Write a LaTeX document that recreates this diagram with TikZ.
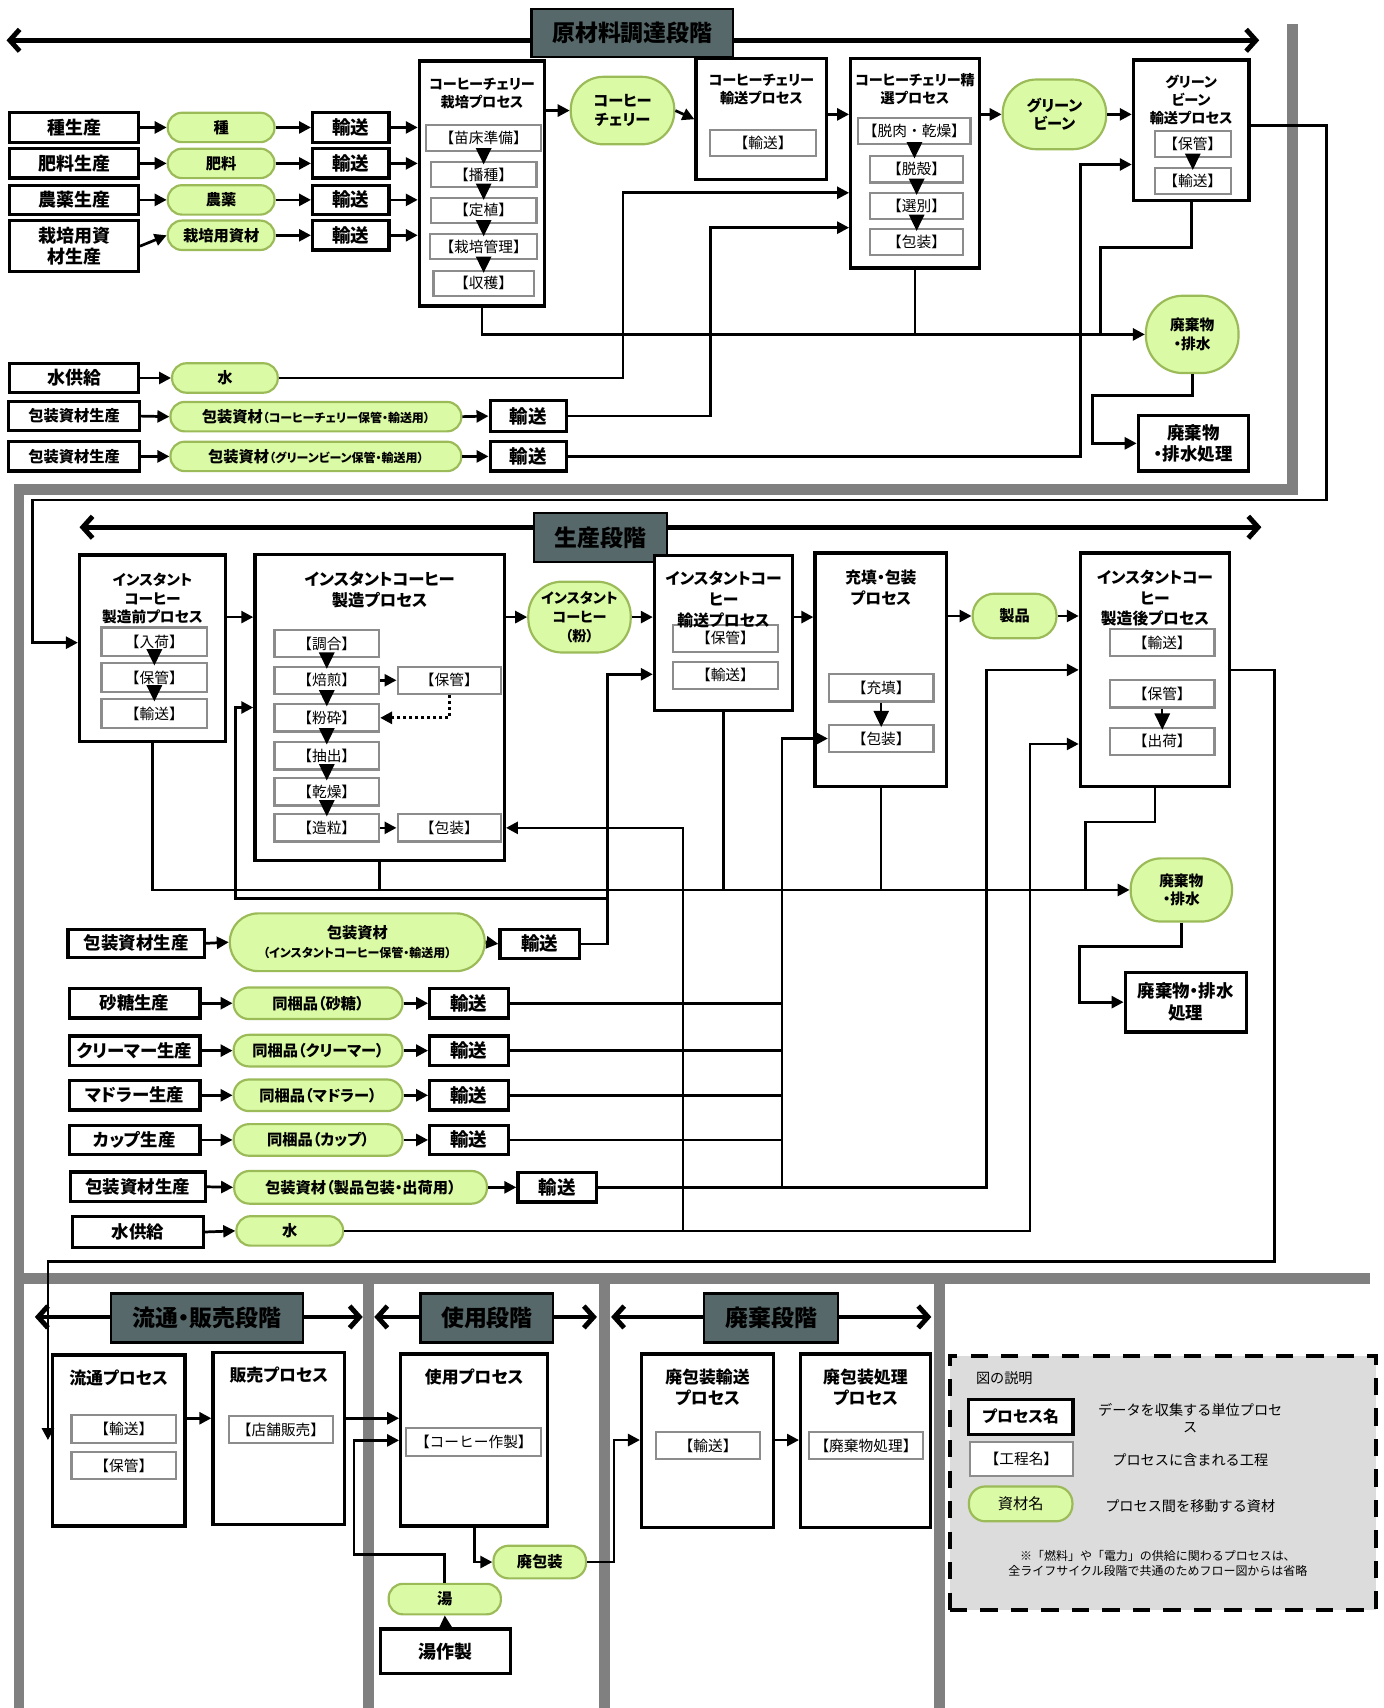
\documentclass[tikz,border=0pt]{standalone}
\usepackage{fontspec}
\setmainfont{Noto Sans CJK JP}[BoldFeatures={RawFeature=+palt}]
\usetikzlibrary{positioning,arrows.meta}
\definecolor{framegray}{RGB}{128,128,128}
\definecolor{stagegray}{RGB}{86,104,106}
\definecolor{stepgray}{RGB}{140,140,140}
\definecolor{matfill}{RGB}{219,250,165}
\definecolor{matline}{RGB}{155,187,89}
\definecolor{legendgray}{RGB}{220,220,220}
\newcommand{\fsz}[2]{\fontsize{#1}{#2}\selectfont}

\begin{document}
\begin{tikzpicture}[x=1pt,y=-1pt,
  wh/.style 2 args={minimum width=#1,minimum height=#2},
  frame/.style={draw=framegray,line width=10pt},
  phase/.style={{Straight Barb[length=9pt,width=20pt]}-{Straight Barb[length=9pt,width=20pt]},line width=4.5pt},
  stage/.style={draw,line width=2pt,fill=stagegray,inner sep=0pt,font=\bfseries\fsz{21}{24}},
  src/.style={draw,line width=3pt,fill=white,inner sep=0pt,align=center,font=\bfseries\fsz{16.5}{20}},
  msrc/.style={src,font=\bfseries\fsz{16}{19}},
  trn/.style={src,font=\bfseries\fsz{17}{19}},
  proc/.style={draw,line width=3pt,fill=white,inner sep=0pt},
  ptitle/.style={inner sep=0pt,align=center,font=\bfseries\fsz{13}{16.5}},
  stp/.style={draw=stepgray,line width=2pt,fill=white,inner sep=0pt,font=\fsz{13.5}{15}},
  mat/.style={draw=matline,line width=2pt,fill=matfill,rounded corners=13pt,inner sep=0pt,align=center,font=\bfseries\fsz{14}{17}},
  flow/.style={-{Triangle[length=11pt,width=11pt]},line width=2.5pt},
  wire/.style={line width=2.5pt},
  stepflow/.style={-{Triangle[length=15pt,width=14pt]},line width=2pt,shorten >=-3pt},
  dots/.style={flow,line width=3pt,dash pattern=on 3pt off 2.5pt}]
  \useasboundingbox (0,0) rectangle (1270,1568);

  % stage frames
  \draw[frame] (1186.5,22) |- (17.4,449) -- (17.4,1568);
  \draw[frame] (17.4,1174) -- (1258,1174);
  \foreach \x in {338,555,862.6}
    \draw[frame] (\x,1174) -- (\x,1568);

  %% raw material stage
  \draw[phase] (6,37) -- (1156,37);
  \node[stage,wh={185}{44}] (st1) at (580.5,30) {原材料調達段階};

  % cultivation
  \node[proc,wh={115}{225}] (p1) at (442.5,168.5) {};
  \node[ptitle,below=17pt of p1.north] (p1t) {コーヒーチェリー\\栽培プロセス};
  \node[stp,wh={106}{24}] (a1) at (444,127) {【苗床準備】};
  \node[stp,wh={97}{23}] (a2) at (444,160.5) {【播種】};
  \node[stp,wh={97}{23}] (a3) at (444,193) {【定植】};
  \node[stp,wh={98}{23}] (a4) at (444,226.5) {【栽培管理】};
  \node[stp,wh={92}{23}] (a5) at (444,260) {【収穫】};
  \node[mat,wh={95}{62},rounded corners=30pt] (m8) at (571.5,101.5) {コーヒー\\チェリー};

  % cherry transport
  \node[proc,wh={120}{111}] (p2) at (699,109.5) {};
  \node[ptitle,below=15pt of p2.north] (p2t) {コーヒーチェリー\\輸送プロセス};
  \node[stp,wh={97}{24}] (b1) at (700.5,131) {【輸送】};

  % sorting
  \node[proc,wh={118}{192}] (p3) at (840,150) {};
  \node[ptitle,below=15pt of p3.north] (p3t) {コーヒーチェリー精\\選プロセス};
  \node[stp,wh={103}{24}] (c1) at (839.5,120) {【脱肉・乾燥】};
  \node[stp,wh={85}{24}] (c2) at (841.5,155.5) {【脱殻】};
  \node[stp,wh={85}{24}] (c3) at (841.5,189) {【選別】};
  \node[stp,wh={85}{24}] (c4) at (841.5,222) {【包装】};
  \node[mat,wh={95}{64},rounded corners=31pt] (m9) at (968,105) {グリーン\\ビーン};

  % green bean transport
  \node[proc,wh={106}{129}] (p4) at (1093.5,119.5) {};
  \node[ptitle,below=15pt of p4.north] (p4t) {グリーン\\ビーン\\輸送プロセス};
  \node[stp,wh={70}{24}] (d1) at (1095,132) {【保管】};
  \node[stp,wh={70}{24}] (d2) at (1095,166) {【輸送】};
  \node[mat,wh={85}{71},rounded corners=34pt,font=\bfseries\fsz{13.5}{17}] (m10) at (1094.5,307) {廃棄物\\・排水};
  \node[src,wh={101}{51},font=\bfseries\fsz{16}{20}] (w1) at (1095.5,407) {廃棄物\\・排水処理};

  % inputs
  \foreach \i/\y/\s/\m in {1/117/種生産/種,2/150/肥料生産/肥料,3/183.5/農薬生産/農薬}{
    \node[src,wh={118}{27}] (s\i) at (68,\y) {\s};
    \node[mat,wh={98}{27}] (m\i) at (203,\y) {\m};
    \node[trn,wh={70}{27}] (r\i) at (322,\y) {輸送};
  }
  \node[src,wh={118}{47}] (s4) at (68,226) {栽培用資\\材生産};
  \node[mat,wh={98}{27}] (m4) at (203,216) {栽培用資材};
  \node[trn,wh={70}{27}] (r4) at (322,216) {輸送};
  \node[src,wh={118}{27}] (s5) at (68,347) {水供給};
  \node[mat,wh={97}{27}] (m5) at (206.5,347) {水};
  \node[src,wh={120}{27},font=\bfseries\fsz{14}{17}] (s6) at (68,382) {包装資材生産};
  \node[mat,wh={267}{27},font=\bfseries\fsz{14}{17}] (m6) at (290,382.5) {包装資材\fsz{11}{13}（コーヒーチェリー保管・輸送用）};
  \node[trn,wh={70}{28}] (r5) at (485,382) {輸送};
  \node[src,wh={120}{27},font=\bfseries\fsz{14}{17}] (s7) at (68,419) {包装資材生産};
  \node[mat,wh={267}{27},font=\bfseries\fsz{14}{17}] (m7) at (290,419) {包装資材\fsz{11}{13}（グリーンビーン保管・輸送用）};
  \node[trn,wh={70}{27}] (r6) at (485,419) {輸送};

  %% production stage
  \draw[phase] (73,484) -- (1158,484);
  \node[stage,wh={122}{45}] (st2) at (551.5,493.5) {生産段階};

  % before manufacture
  \node[proc,wh={134}{171}] (q1) at (140,595) {};
  \node[ptitle,below=18pt of q1.north,font=\bfseries\fsz{13.5}{17}] (q1t) {インスタント\\コーヒー\\製造前プロセス};
  \node[stp,wh={97}{26}] (e1) at (141.7,589) {【入荷】};
  \node[stp,wh={97}{26}] (e2) at (141.7,622) {【保管】};
  \node[stp,wh={97}{26}] (e3) at (141.7,655) {【輸送】};

  % manufacture
  \node[proc,wh={229}{281}] (q2) at (348.5,649.5) {};
  \node[ptitle,below=17pt of q2.north,font=\bfseries\fsz{15}{19.5}] (q2t) {インスタントコーヒー\\製造プロセス};
  \node[stp,wh={96}{25}] (f1) at (300,591) {【調合】};
  \node[stp,wh={96}{25}] (f2) at (300,624.5) {【焙煎】};
  \node[stp,wh={96}{25}] (f3) at (300,659) {【粉砕】};
  \node[stp,wh={96}{25}] (f4) at (300,694) {【抽出】};
  \node[stp,wh={96}{25}] (f5) at (300,727) {【乾燥】};
  \node[stp,wh={96}{25}] (f6) at (300,760) {【造粒】};
  \node[stp,wh={95}{25}] (g1) at (412.5,624.5) {【保管】};
  \node[stp,wh={95}{25}] (g2) at (412.5,760) {【包装】};
  \node[mat,wh={94}{65},rounded corners=31pt,font=\bfseries\fsz{13}{17.5}] (m11) at (532,566.5) {インスタント\\コーヒー\\（粉）};

  % transport (title sits over the first step)
  \node[proc,wh={127}{142}] (q3) at (664.3,581) {};
  \node[stp,wh={96}{25}] (h1) at (666,586) {【保管】};
  \node[stp,wh={96}{25}] (h2) at (666,620) {【輸送】};
  \node[ptitle,below=16pt of q3.north,font=\bfseries\fsz{14.5}{19}] (q3t) {インスタントコー\\ヒー\\輸送プロセス};

  % filling and packing
  \node[proc,wh={121}{214}] (q4) at (808.7,614.7) {};
  \node[ptitle,below=17pt of q4.north,font=\bfseries\fsz{14.5}{19}] (q4t) {充填・包装\\プロセス};
  \node[stp,wh={96}{25}] (i1) at (809,631.5) {【充填】};
  \node[stp,wh={96}{25}] (i2) at (809,678) {【包装】};
  \node[mat,wh={77}{41},rounded corners=20pt] (m12) at (931.4,565.5) {製品};

  % after manufacture
  \node[proc,wh={137}{214}] (q5) at (1060.3,614.7) {};
  \node[stp,wh={96}{25}] (j1) at (1067,590) {【輸送】};
  \node[stp,wh={96}{25}] (j2) at (1067,637) {【保管】};
  \node[stp,wh={96}{25}] (j3) at (1067,680.5) {【出荷】};
  \node[ptitle,below=17pt of q5.north,font=\bfseries\fsz{14.5}{19}] (q5t) {インスタントコー\\ヒー\\製造後プロセス};
  \node[mat,wh={93}{58},rounded corners=28pt,font=\bfseries\fsz{13.5}{17}] (m13) at (1084.5,817) {廃棄物\\・排水};
  \node[src,wh={111}{55},font=\bfseries\fsz{16}{20}] (w2) at (1088.5,920) {廃棄物・排水\\処理};

  % inputs
  \node[msrc,wh={125}{26}] (s8) at (125,866) {包装資材生産};
  \node[mat,wh={234}{53},rounded corners=26pt,font=\bfseries\fsz{14}{17}] (m14) at (328,865) {包装資材\\\fsz{11}{13}（インスタントコーヒー保管・輸送用）};
  \node[trn,wh={73}{27}] (r7) at (495.5,866.5) {輸送};
  \foreach \i/\y/\s/\m in {1/921/砂糖生産/砂糖,2/964.5/クリーマー生産/クリーマー,3/1005.5/マドラー生産/マドラー,4/1046.5/カップ生産/カップ}{
    \node[msrc,wh={120}{27}] (cs\i) at (123.5,\y) {\s};
    \node[mat,wh={155}{29},rounded corners=14pt] (cm\i) at (292,\y) {同梱品（\m）};
    \node[trn,wh={72}{27}] (cr\i) at (430.5,\y) {輸送};
  }
  \node[msrc,wh={124}{27}] (s9) at (126.5,1089.5) {包装資材生産};
  \node[mat,wh={232}{30},rounded corners=14pt] (m15) at (331,1090) {包装資材（製品包装・出荷用）};
  \node[trn,wh={72}{27}] (r8) at (511.5,1090) {輸送};
  \node[msrc,wh={120}{28}] (s10) at (126.5,1131) {水供給};
  \node[mat,wh={98}{27}] (m16) at (266,1130) {水};

  %% distribution, use and disposal stages
  \draw[phase] (32,1209) -- (333,1209);
  \node[stage,wh={176}{45}] (st3) at (190,1210) {流通・販売段階};
  \draw[phase] (343.6,1209) -- (548,1209);
  \node[stage,wh={122}{45}] (st4) at (447,1210) {使用段階};
  \draw[phase] (561,1209) -- (855,1209);
  \node[stage,wh={123}{45}] (st5) at (708,1210) {廃棄段階};

  \node[proc,wh={122}{157}] (u1) at (108.9,1322.5) {};
  \node[ptitle,below=15pt of u1.north,font=\bfseries\fsz{15.5}{19}] (u1t) {流通プロセス};
  \node[stp,wh={96}{26}] (v1) at (113.7,1312) {【輸送】};
  \node[stp,wh={96}{25}] (v2) at (113.7,1345.5) {【保管】};
  \node[proc,wh={121}{158}] (u2) at (256,1320.5) {};
  \node[ptitle,below=15pt of u2.north,font=\bfseries\fsz{15.5}{19}] (u2t) {販売プロセス};
  \node[stp,wh={96}{25}] (v3) at (258,1312.5) {【店舗販売】};
  \node[proc,wh={135}{158}] (u3) at (435.4,1322) {};
  \node[ptitle,below=15pt of u3.north,font=\bfseries\fsz{15.5}{19}] (u3t) {使用プロセス};
  \node[stp,wh={124}{26}] (v4) at (435,1324) {【コーヒー作製】};
  \node[mat,wh={85}{30},rounded corners=14pt] (m21) at (495.5,1434) {廃包装};
  \node[mat,wh={103}{28},rounded corners=13pt] (m22) at (408.3,1468) {湯};
  \node[src,wh={119}{41}] (x1) at (409,1516) {湯作製};
  \node[proc,wh={121}{159}] (u4) at (649.5,1322.5) {};
  \node[ptitle,below=15pt of u4.north,font=\bfseries\fsz{15.5}{19}] (u4t) {廃包装輸送\\プロセス};
  \node[stp,wh={96}{25}] (v5) at (650,1327) {【輸送】};
  \node[proc,wh={119}{159}] (u5) at (794.5,1322.5) {};
  \node[ptitle,below=15pt of u5.north,font=\bfseries\fsz{15.5}{19}] (u5t) {廃包装処理\\プロセス};
  \node[stp,wh={105}{25}] (v6) at (795,1327) {【廃棄物処理】};

  % legend
  \node[draw,line width=4pt,dash pattern=on 16pt off 12pt,fill=legendgray,wh={391}{233}] (lg) at (1067.5,1361.5) {};
  \node[font=\fsz{13}{16}] (l0) at (922,1265.6) {図の説明};
  \node[proc,wh={96}{32},font=\bfseries\fsz{14.5}{16}] (l1) at (937,1300.6) {プロセス名};
  \node[stp,wh={94}{31}] (l2) at (937.7,1339.6) {【工程名】};
  \node[mat,wh={95}{32},rounded corners=15pt,font=\fsz{14}{16}] (l3) at (937,1380.6) {資材名};
  \node[align=center,font=\fsz{13}{16}] (l4) at (1092.7,1302) {データを収集する単位プロセ\\ス};
  \node[font=\fsz{13}{16}] (l5) at (1092.7,1340.6) {プロセスに含まれる工程};
  \node[font=\fsz{13}{16}] (l6) at (1092.7,1382.6) {プロセス間を移動する資材};
  \node[align=center,font=\fsz{11}{14}] (l7) at (1063,1435) {※「燃料」や「電力」の供給に関わるプロセスは、\\全ライフサイクル段階で共通のためフロー図からは省略};

  %% connectors: raw material stage
  \foreach \a/\b in {a1/a2,a2/a3,a3/a4,a4/a5,c1/c2,c2/c3,c3/c4,d1/d2,e1/e2,e2/e3,f1/f2,f2/f3,f3/f4,f4/f5,f5/f6,i1/i2,j2/j3}
    \draw[stepflow] (\a.south) -- (\a.south |- \b.north);
  \foreach \i in {1,2,3,4}{
    \draw[flow] (s\i.east) -- (m\i.west);
    \draw[flow] (m\i.east) -- (r\i.west);
    \draw[flow] (r\i.east) -- (r\i.east -| p1.west);
  }
  \draw[flow] (p1.east |- m8) -- (m8.west);
  \draw[flow] (m8.east) -- (p2.west);
  \draw[flow] (p2.east |- m9) -- (p3.west |- m9);
  \draw[flow] (p3.east |- m9) -- (m9.west);
  \draw[flow] (m9.east) -- (p4.west |- m9);
  \draw[flow] (s5.east) -- (m5.west);
  \coordinate (k1) at (572,177);
  \draw[flow] (m5.east) -| (k1) -- (k1 -| p3.west);
  \draw[flow] (s6.east) -- (m6.west);
  \draw[flow] (m6.east) -- (r5.west);
  \coordinate (k2) at (652,209);
  \draw[flow] (r5.east) -| (k2) -- (k2 -| p3.west);
  \draw[flow] (s7.east) -- (m7.west);
  \draw[flow] (m7.east) -- (r6.west);
  \coordinate (k3) at (992,151);
  \draw[flow] (r6.east) -| (k3) -- (k3 -| p4.west);
  % waste
  \draw[flow] (p1.south) |- (m10.west);
  \draw[wire] (p3.south) -- (p3.south |- m10.west);
  \coordinate (k4) at (1010,227);
  \draw[wire] (p4.south) |- (k4) -- (k4 |- m10.west);
  \coordinate (k5) at (1003,363);
  \draw[flow] (m10.south) |- (k5) |- (w1.west);
  % green beans to production
  \coordinate (k6) at (1218,115);
  \coordinate (k7) at (1218,459);
  \coordinate (k8) at (30,590);
  \draw[flow] (k6 -| p4.east) -- (k6) -- (k7) -| (k8) -- (k8 -| q1.west);

  %% connectors: production stage
  \draw[flow] (f2.east) -- (g1.west);
  \draw[flow] (f6.east) -- (g2.west);
  \draw[dots] (g1.south) |- (f3.east);
  \draw[flow] (q1.east |- m11) -- (q2.west |- m11);
  \draw[flow] (q2.east |- m11) -- (m11.west);
  \draw[flow] (m11.east) -- (q3.west |- m11);
  \draw[flow] (q3.east |- m11) -- (q4.west |- m11);
  \draw[flow] (q4.east |- m12) -- (m12.west);
  \draw[flow] (m12.east) -- (q5.west |- m12);
  % waste
  \draw[flow] (q1.south) |- (m13.west);
  \foreach \p in {q2,q3,q4}
    \draw[wire] (\p.south) -- (\p.south |- m13.west);
  \coordinate (k9) at (996.5,754.5);
  \draw[wire] (q5.south) |- (k9) -- (k9 |- m13.west);
  \coordinate (k10) at (991,869);
  \draw[flow] (m13.south) |- (k10) |- (w2.west);
  % product to distribution
  \coordinate (k11) at (1170,615);
  \coordinate (k12) at (44,1158);
  \coordinate (k13) at (44,1322);
  \draw[flow] (k11 -| q5.east) -- (k11) |- (k12) -- (k13);
  % packaging material
  \draw[flow] (s8.east) -- (m14.west);
  \draw[flow] (m14.east) -- (r7.west);
  \coordinate (k14) at (557.6,619);
  \coordinate (k15) at (216.5,824.7);
  \coordinate (k16) at (216.5,649.5);
  \draw[flow] (r7.east) -| (k14) -- (k14 -| q3.west);
  \draw[flow] (k14 |- k15) -- (k15) -- (k16) -- (k16 -| q2.west);
  % bundled items
  \coordinate (k17) at (718,677);
  \foreach \i in {1,2,3,4}{
    \draw[flow] (cs\i.east) -- (cm\i.west);
    \draw[flow] (cm\i.east) -- (cr\i.west);
    \draw[wire] (cr\i.east) -- (cr\i.east -| k17);
  }
  \draw[flow] (s9.east) -- (m15.west);
  \draw[flow] (m15.east) -- (r8.west);
  \coordinate (k18) at (905.6,615);
  \draw[flow] (r8.east) -| (k18) -- (k18 -| q5.west);
  \draw[flow] (r8.east -| k17) |- (i2.west);
  % water
  \draw[flow] (s10.east) -- (m16.west);
  \coordinate (k19) at (945.6,683);
  \coordinate (k20) at (627,760);
  \draw[flow] (m16.east) -| (k19) -- (k19 -| q5.west);
  \draw[flow] (m16.east -| k20) -- (k20) -- (k20 -| q2.east);

  %% connectors: distribution, use and disposal
  \coordinate (k21) at (0,1302);
  \draw[flow] (u1.east |- k21) -- (u2.west |- k21);
  \draw[flow] (u2.east |- k21) -- (u3.west |- k21);
  \coordinate (k22) at (325,1427);
  \coordinate (k23) at (325,1322.3);
  \draw[flow] (m22.north) |- (k22) -- (k23) -- (k23 -| u3.west);
  \draw[flow] (x1.north) -- (m22.south);
  \draw[flow] (u3.south) |- (m21.west);
  \coordinate (k24) at (563.6,1322);
  \draw[flow] (m21.east) -| (k24) -- (k24 -| u4.west);
  \draw[flow] (u4.east |- k24) -- (u5.west |- k24);
\end{tikzpicture}
\end{document}
